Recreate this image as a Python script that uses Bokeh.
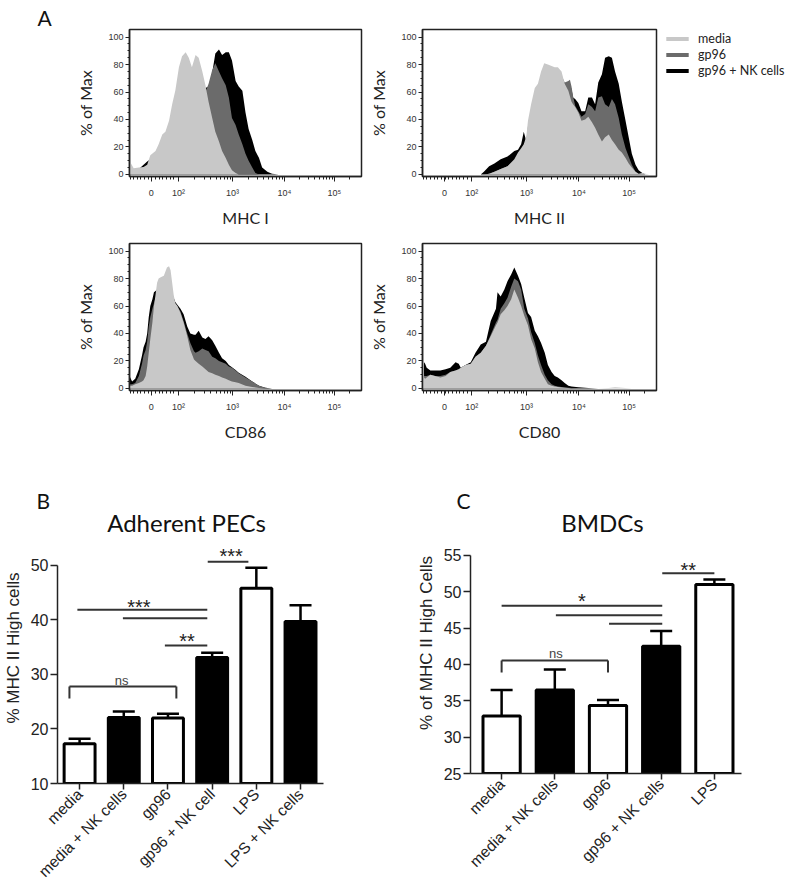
import math
from bokeh.plotting import figure
from bokeh.models import (Range1d, FixedTicker, Title, Label, Legend, LegendItem,
                          Whisker, TeeHead, ColumnDataSource)
from bokeh.layouts import column, row
from bokeh.embed import file_html
from bokeh.resources import INLINE
from bokeh.core.properties import value

# ---------------- data: flow histograms (x in logicle display units, y = % of Max) ----
hist_tick_pos = [1.44, 1.96, 3.0, 4.0, 4.96]
hist_tick_labels = ["0", "10²", "10³", "10⁴", "10⁵"]
legend_labels = ["media", "gp96", "gp96 + NK cells"]

mhc1_x = [1.02, 1.10, 1.20, 1.29, 1.36, 1.42, 1.52, 1.58, 1.65, 1.71, 1.78, 1.84, 1.90, 1.97,
          2.03, 2.10, 2.16, 2.22, 2.29, 2.35, 2.42, 2.48, 2.54, 2.61, 2.67, 2.74, 2.80, 2.87,
          2.93, 2.99, 3.06, 3.12, 3.19, 3.25, 3.31, 3.38, 3.44, 3.51, 3.57, 3.67, 3.76, 3.89, 5.48]
mhc1_media = [10, 4.5, 5, 5.5, 7, 14, 17, 22, 29, 31, 39, 51, 61, 78, 86, 89, 85, 78, 87, 85,
              75, 65, 53, 41, 31, 24, 17, 12, 7, 3, 1, 0, 0, 0, 0, 0, 0, 0, 0, 0, 0, 0, 0]
mhc1_gp96 = [4, 3, 3, 4, 5, 8, 12, 15, 18, 22, 25, 28, 32, 36, 40, 44, 48, 52, 55, 57,
             59, 60, 66, 76, 81, 75, 70, 65, 56, 41, 36, 29, 22, 15, 10, 5, 1, 0, 0, 0, 0, 0, 0]
mhc1_nk = [4, 3, 4, 7, 9.5, 11, 14, 17, 20, 22, 25, 28, 30, 33, 36, 40, 44, 48, 52, 56,
           60, 63, 64, 74, 88, 91, 87, 89, 89, 83, 68, 64, 61, 45, 33, 25, 17, 12, 5, 2, 0.5, 0, 0]

mhc2_x = [1.02, 1.87, 2.13, 2.19, 2.29, 2.39, 2.51, 2.64, 2.77, 2.84, 2.90, 2.95, 3.00, 3.03,
          3.09, 3.16, 3.22, 3.28, 3.34, 3.41, 3.48, 3.54, 3.60, 3.67, 3.73, 3.80, 3.83, 3.86,
          3.89, 3.93, 3.99, 4.05, 4.12, 4.18, 4.25, 4.31, 4.37, 4.44, 4.50, 4.57, 4.63, 4.69,
          4.76, 4.82, 4.89, 4.95, 5.01, 5.08, 5.14, 5.21, 5.27, 5.34, 5.48]
mhc2_media = [0, 0, 0, 0, 0.5, 2, 4, 6, 11, 16, 19, 22, 28, 39, 51, 63, 66, 75, 81, 80,
              79, 78, 78, 75, 66, 61, 57, 53, 51, 49, 45, 39, 40, 42, 38, 34, 29, 24, 27, 29,
              25, 22, 18, 16, 12, 8, 5, 2, 0.5, 1, 0.5, 0, 0]
mhc2_gp96 = [0, 0, 0, 0, 0.5, 2, 4, 6, 10, 14, 17, 20, 25, 35, 45, 55, 60, 65, 70, 72,
             72, 73, 73, 72, 67, 68, 69, 64, 57, 50, 46, 42, 44, 51, 49, 46, 56, 57, 51, 49,
             55, 51, 41, 29, 19, 13, 7, 2, 0, 0, 0, 0, 0]
mhc2_nk = [0, 0, 0, 2, 6, 8, 11, 13, 17, 18, 22, 31, 24, 30, 45, 55, 60, 65, 70, 72,
           72, 72, 72, 70, 64, 66, 66, 62, 56, 55, 52, 46, 46, 56, 56, 51, 67, 73, 85, 86,
           85, 75, 66, 53, 39, 27, 15, 7, 3, 1, 0, 0, 0]

cd86_x = [1.02, 1.07, 1.13, 1.20, 1.26, 1.29, 1.33, 1.36, 1.39, 1.42, 1.46, 1.49, 1.52, 1.55,
          1.58, 1.62, 1.68, 1.74, 1.78, 1.81, 1.87, 1.90, 1.94, 2.00, 2.06, 2.13, 2.19, 2.26,
          2.29, 2.35, 2.42, 2.48, 2.54, 2.61, 2.67, 2.74, 2.80, 2.87, 2.93, 2.99, 3.06, 3.12,
          3.25, 3.38, 3.51, 3.63, 3.76, 5.48]
cd86_media = [2, 2, 3, 4, 5, 6, 9, 16, 26, 36, 48, 60, 68, 77, 80, 81, 82, 88, 89, 86,
              68, 62, 60, 55, 48, 38, 28, 21, 20, 18, 16, 14, 12, 11, 10, 9, 8, 7, 6, 5,
              4.5, 4, 2, 1, 0.3, 0, 0, 0]
cd86_gp96 = [3, 3, 4, 9, 18, 24, 28, 34, 45, 52, 58, 62, 66, 68, 70, 70, 70, 70, 70, 68,
             65, 62, 60, 56, 49, 40, 33, 27, 26, 27, 29, 28, 27, 23, 22, 20, 19, 18, 16, 15,
             13, 11, 8, 5, 2, 0.5, 0, 0]
cd86_nk = [9, 5, 7, 14, 24, 30, 34, 40, 52, 60, 65, 70, 71, 72, 72, 72, 72, 72, 72, 70,
           66, 63, 61, 58, 54, 45, 40, 39, 39, 42, 37, 36, 38, 35, 31, 26, 22, 20, 17, 15.5,
           13.5, 11.5, 8.5, 5, 2, 0.5, 0, 0]

cd80_x = [1.02, 1.03, 1.04, 1.05, 1.07, 1.10, 1.17, 1.26, 1.36, 1.46, 1.55, 1.65, 1.71, 1.75,
          1.84, 1.94, 2.03, 2.13, 2.23, 2.32, 2.42, 2.45, 2.51, 2.58, 2.64, 2.71, 2.77, 2.84,
          2.90, 2.96, 3.03, 3.09, 3.16, 3.22, 3.28, 3.35, 3.41, 3.48, 3.54, 3.60, 3.67, 3.73,
          3.80, 3.86, 3.99, 4.18, 4.37, 4.57, 4.69, 4.82, 5.01, 5.48]
cd80_media = [95, 95, 58, 8, 7, 8, 10, 9, 8, 9, 12, 13, 14, 15, 17, 18, 23, 26, 31, 38, 46,
              48, 54, 57, 60, 65, 72, 66, 60, 53, 46, 36, 29, 19, 12, 7, 3, 2, 1.5, 1, 0.7,
              0.5, 0.3, 0, 0, 0, 0, 0.3, 0.8, 0.5, 0, 0]
cd80_gp96 = [8, 8, 8, 9, 9, 9, 10, 9, 9, 10, 12, 13, 14, 15, 17, 18, 23, 26, 31, 39, 48,
             50, 58, 62, 66, 74, 80, 78, 72, 58, 51, 41, 33, 24, 17, 10, 6, 3, 2, 1.5, 1,
             0.7, 0.5, 0.3, 0, 0, 0, 0, 0, 0, 0, 0]
cd80_nk = [12, 12, 14, 19, 18, 15, 13, 13, 13, 14, 15, 19, 18, 15, 17, 19, 26, 32, 34, 49, 58,
           70, 67, 72, 78, 83, 88, 82, 76, 66, 55, 52, 42, 38, 33, 26, 17, 12, 9, 8, 6,
           4, 2, 1.5, 0.8, 0.3, 0, 0, 0, 0, 0, 0]

# ---------------- data: bar charts ----------------
b_categories = ["media", "media + NK cells", "gp96", "gp96 + NK cell", "LPS", "LPS + NK cells"]
b_values = [17.3, 22.1, 22.0, 33.1, 45.8, 39.7]
b_err_top = [18.2, 23.2, 22.8, 34.0, 49.6, 42.7]
b_fills = ["white", "black", "white", "black", "white", "black"]
b_yticks = [10, 20, 30, 40, 50]
# significance lines: x0, x1, y
b_sig_x0 = [2.90, -0.05, 0.98, 1.93]
b_sig_x1 = [3.82, 2.89, 2.89, 2.89]
b_sig_y = [50.7, 41.9, 40.3, 35.3]
b_sig_text = ["***", "***", "**", "ns"]
b_sig_tx = [3.43, 1.34, 2.43, 0.95]
b_sig_ty = [51.8, 42.4, 36.2, 28.9]
b_ns_x0, b_ns_x1, b_ns_top, b_ns_bottom = -0.23, 2.19, 27.8, 25.6

c_categories = ["media", "media + NK cells", "gp96", "gp96 + NK cells", "LPS"]
c_values = [32.9, 36.5, 34.35, 42.5, 51.0]
c_err_top = [36.5, 39.3, 35.1, 44.6, 51.7]
c_fills = ["white", "black", "white", "black", "white"]
c_yticks = [25, 30, 35, 40, 45, 50, 55]
c_sig_x0 = [3.02, 0.0, 1.02, 2.02]
c_sig_x1 = [4.00, 3.02, 3.02, 3.02]
c_sig_y = [52.55, 48.07, 46.78, 45.6]
c_sig_text = ["**", "*", "ns"]
c_sig_tx = [3.51, 1.51, 1.02]
c_sig_ty = [53.0, 48.7, 41.5]
c_ns_x0, c_ns_x1, c_ns_top, c_ns_bottom = 0.0, 2.0, 40.54, 38.9

# ---------------- style ----------------
CAL = "Lato"
ARIAL = "Liberation Sans"
COL_MEDIA = "#c8c8c8"
COL_GP96 = "#6b6b6b"
COL_NK = "#000000"
AX = "#222222"

hist_minor = [round(1.03 + 0.07 * i, 3) for i in range(13)]
for a, b in [(1.96, 3.0), (3.0, 4.0), (4.0, 4.96)]:
    for m in range(2, 10):
        hist_minor.append(a + (b - a) * math.log10(m))
hist_minor.append(4.96 + 0.96 * math.log10(2))


def hist_fig(fw, bl, br, bt, bb, xs, m, g, k, xlabel, legend_loc=None):
    p = figure(frame_width=fw, frame_height=147, output_backend="svg",
               toolbar_location=None,
               x_range=Range1d(1.02, 5.48), y_range=Range1d(-1.5, 105.5),
               min_border_left=bl, min_border_right=br, min_border_top=bt,
               min_border_bottom=bb)
    p.grid.visible = False
    p.outline_line_color = AX
    p.outline_line_width = 1.5
    rk = p.varea(x=xs, y1=0, y2=k, fill_color=COL_NK)
    rg = p.varea(x=xs, y1=0, y2=g, fill_color=COL_GP96)
    rm = p.varea(x=xs, y1=0, y2=m, fill_color=COL_MEDIA)

    xa = p.xaxis[0]
    xa.ticker = FixedTicker(ticks=hist_tick_pos, minor_ticks=hist_minor)
    xa.major_label_overrides = dict(zip(hist_tick_pos, hist_tick_labels))
    ya = p.yaxis[0]
    ya.ticker = FixedTicker(ticks=[0, 20, 40, 60, 80, 100],
                            minor_ticks=[v for v in range(0, 105, 5) if v % 20])
    for ax in (xa, ya):
        ax.axis_line_color = AX
        ax.axis_line_width = 1.5
        ax.major_tick_line_color = AX
        ax.minor_tick_line_color = AX
        ax.major_tick_in = 0
        ax.minor_tick_in = 0
        ax.major_label_text_font = ARIAL
        ax.major_label_text_font_size = "9px"
        ax.major_label_text_color = "#333333"
        ax.axis_label_text_font = CAL
        ax.axis_label_text_font_size = "16px"
        ax.axis_label_text_font_style = "normal"
        ax.axis_label_text_color = AX
    xa.major_tick_out = 5
    xa.minor_tick_out = 3
    xa.major_label_standoff = 6
    xa.axis_label = xlabel
    xa.axis_label_standoff = 7
    ya.major_tick_out = 4
    ya.minor_tick_out = 2
    ya.major_label_standoff = 2
    ya.axis_label = "% of Max"
    ya.axis_label_standoff = 10

    if legend_loc is not None:
        lg = Legend(items=[LegendItem(label=legend_labels[0], renderers=[rm]),
                           LegendItem(label=legend_labels[1], renderers=[rg]),
                           LegendItem(label=legend_labels[2], renderers=[rk])],
                    location=legend_loc, glyph_width=28, glyph_height=5,
                    label_height=16, spacing=0, padding=0, margin=0,
                    label_standoff=7, label_text_font=CAL,
                    label_text_font_size="12.5px", label_text_color=AX,
                    label_text_baseline="middle",
                    border_line_alpha=0, background_fill_alpha=0)
        p.add_layout(lg, "right")
    return p


def bar_fig(fw, fh, bl, br, bt, bb, xr, base, ytop, cats, vals, errs, fills, yticks,
            ylabel, sx0, sx1, sy, stext, stx, sty, ns):
    p = figure(frame_width=fw, frame_height=fh, output_backend="svg",
               toolbar_location=None,
               x_range=Range1d(*xr), y_range=Range1d(base, ytop),
               min_border_left=bl, min_border_right=br, min_border_top=bt,
               min_border_bottom=bb)
    p.grid.visible = False
    p.outline_line_color = None
    xs = list(range(len(cats)))
    p.vbar(x=xs, top=vals, bottom=base, width=0.7, fill_color=fills,
           line_color="black", line_width=3)
    src = ColumnDataSource(dict(x=xs, lower=vals, upper=errs))
    p.add_layout(Whisker(source=src, base="x", lower="lower", upper="upper",
                         dimension="height", lower_head=None,
                         upper_head=TeeHead(size=22, line_width=2.5, line_color="black"),
                         line_width=2.5, line_color="black"))
    p.segment(x0=sx0, y0=sy, x1=sx1, y1=sy, line_width=2, line_color="#333333")
    nx0, nx1, ntop, nbot = ns
    p.segment(x0=[nx0, nx0, nx1], y0=[ntop, ntop, ntop], x1=[nx1, nx0, nx1],
              y1=[ntop, nbot, nbot], line_width=2, line_color="#333333")
    sizes = ["13px" if t == "ns" else "20px" for t in stext]
    colors = ["#444444" if t == "ns" else "#222222" for t in stext]
    p.text(x=stx, y=sty, text=stext, text_font=value(ARIAL), text_font_size=sizes,
           text_color=colors, text_align="center", text_baseline="middle")

    xa = p.xaxis[0]
    xa.ticker = FixedTicker(ticks=xs)
    xa.major_label_overrides = {i: c for i, c in enumerate(cats)}
    xa.major_label_orientation = math.pi / 4
    ya = p.yaxis[0]
    ya.ticker = FixedTicker(ticks=yticks)
    ya.bounds = (yticks[0], yticks[-1])
    for ax in (xa, ya):
        ax.axis_line_color = AX
        ax.axis_line_width = 1.5
        ax.major_tick_line_color = AX
        ax.major_tick_line_width = 1.5
        ax.minor_tick_line_color = None
        ax.major_tick_in = 0
        ax.major_tick_out = 7
        ax.major_label_text_font = ARIAL
        ax.major_label_text_color = AX
    xa.major_label_text_font_size = "15.5px"
    ya.major_label_text_font_size = "16px"
    xa.major_tick_out = 6
    xa.major_label_standoff = 2
    ya.major_label_standoff = 2
    ya.axis_label = ylabel
    ya.axis_label_text_font = ARIAL
    ya.axis_label_text_font_size = "17px"
    ya.axis_label_text_font_style = "normal"
    ya.axis_label_text_color = AX
    ya.axis_label_standoff = 5
    return p


def add_title(p, text, size, align, offset):
    p.add_layout(Title(text=text, align=align, offset=offset, standoff=0,
                       text_font=CAL, text_font_size=size, text_font_style="normal",
                       text_color="#111111"), "above")


def add_label(p, x, y, text, size):
    # screen units measured from the frame's bottom-left corner (inside the frame)
    p.add_layout(Label(x=x, y=y, x_units="screen", y_units="screen", text=text,
                       text_font=CAL, text_font_size=size, text_color="#111111",
                       text_align="center", text_baseline="middle"))


f1 = hist_fig(232, 129, 5, 29, 56, mhc1_x, mhc1_media, mhc1_gp96, mhc1_nk, "MHC I")
f2 = hist_fig(234, 53, 133, 29, 56, mhc2_x, mhc2_media, mhc2_gp96, mhc2_nk, "MHC II",
              legend_loc=(7, 98))
f3 = hist_fig(232, 129, 5, 11, 65, cd86_x, cd86_media, cd86_gp96, cd86_nk, "CD86")
f4 = hist_fig(234, 53, 133, 11, 65, cd80_x, cd80_media, cd80_gp96, cd80_nk, "CD80")

# frames extend up to y=512 on the page so the titles sit inside them
f5 = bar_fig(266, 271, 54, 60, 57, 104, (-0.5, 5.52), 10, 59.72, b_categories, b_values,
             b_err_top, b_fills, b_yticks, "% MHC II High cells", b_sig_x0, b_sig_x1,
             b_sig_y, b_sig_text, b_sig_tx, b_sig_ty,
             (b_ns_x0, b_ns_x1, b_ns_top, b_ns_bottom))
f6 = bar_fig(271, 261, 87, 41, 57, 104, (-0.585, 4.51), 25, 60.90, c_categories, c_values,
             c_err_top, c_fills, c_yticks, "% of MHC II High Cells", c_sig_x0, c_sig_x1,
             c_sig_y, c_sig_text, c_sig_tx, c_sig_ty,
             (c_ns_x0, c_ns_x1, c_ns_top, c_ns_bottom))

add_title(f1, "A", "21px", "left", -92)
add_title(f5, "B", "21px", "left", -21)
add_title(f6, "C", "21px", "left", -14)
add_label(f5, 129, 261, "Adherent PECs", "24px")
add_label(f6, 132, 251, "BMDCs", "24px")

layout = column(row(f1, f2), row(f3, f4), row(f5, f6))
open("out.html", "w").write(file_html(layout, INLINE))
